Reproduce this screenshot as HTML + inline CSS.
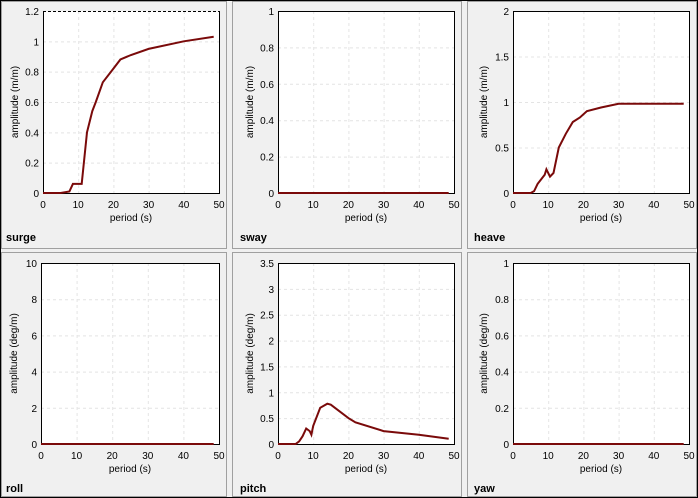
<!DOCTYPE html><html><head><style>body{margin:0;background:#fff}svg{display:block}text{font-family:"Liberation Sans",sans-serif;font-size:10px;fill:#000}</style></head><body>
<svg id="s" width="698" height="498" xmlns="http://www.w3.org/2000/svg"></svg>
<script>
const S=document.getElementById('s');let h='<rect x="0.5" y="0.5" width="697" height="497" fill="#f0f0f0" stroke="#000"/>';
const panels=[[1,1,226,248],[232,1,230,248],[467,1,230,248],[1,252,226,245],[232,252,230,245],[467,252,230,245]];
for(const p of panels){h+=`<rect x="${p[0]+.5}" y="${p[1]+.5}" width="${p[2]-1}" height="${p[3]-1}" fill="#f0f0f0" stroke="#a0a0a0"/>`;}
const charts=[
{L:43,R:219,T:11,B:193,ymax:1.2,yt:[0,0.2,0.4,0.6,0.8,1,1.2],yl:'amplitude (m/m)',name:'surge',nx:6,dash:true,
d:[[0,0],[5,0],[7.5,0.01],[8.5,0.06],[11,0.06],[12.5,0.4],[14,0.54],[15,0.6],[17,0.73],[20,0.82],[22,0.88],[25,0.91],[30,0.95],[40,1.0],[48.5,1.03]]},
{L:278,R:454,T:11,B:193,ymax:1,yt:[0,0.2,0.4,0.6,0.8,1],yl:'amplitude (m/m)',name:'sway',nx:240,d:[[0,0],[48.5,0]]},
{L:513,R:689,T:11,B:193,ymax:2,yt:[0,0.5,1,1.5,2],yl:'amplitude (m/m)',name:'heave',nx:474,
d:[[0,0],[5,0],[6,0.02],[7,0.1],[9,0.2],[9.5,0.26],[10.5,0.18],[11.5,0.22],[13,0.5],[15,0.65],[17,0.78],[19,0.83],[21,0.9],[25,0.94],[30,0.98],[48.5,0.98]]},
{L:41,R:219,T:263,B:444,ymax:10,yt:[0,2,4,6,8,10],yl:'amplitude (deg/m)',name:'roll',nx:6,d:[[0,0],[48.5,0]]},
{L:278,R:454,T:263,B:444,ymax:3.5,yt:[0,0.5,1,1.5,2,2.5,3,3.5],yl:'amplitude (deg/m)',name:'pitch',nx:240,
d:[[0,0],[5,0],[6,0.05],[7,0.15],[8,0.3],[9,0.25],[9.5,0.18],[10,0.35],[12,0.7],[14,0.78],[15,0.76],[20,0.5],[22,0.42],[30,0.25],[40,0.18],[48.5,0.1]]},
{L:513,R:689,T:263,B:444,ymax:1,yt:[0,0.2,0.4,0.6,0.8,1],yl:'amplitude (deg/m)',name:'yaw',nx:474,d:[[0,0],[48.5,0]]}];
for(const c of charts){
 const X=v=>c.L+(c.R-c.L)*v/50,Y=v=>c.B-(c.B-c.T)*v/c.ymax;
 h+=`<rect x="${c.L+.5}" y="${c.T+.5}" width="${c.R-c.L}" height="${c.B-c.T}" fill="#fff"/>`;
 for(let x=10;x<50;x+=10)h+=`<line x1="${X(x)+.5}" x2="${X(x)+.5}" y1="${c.T}" y2="${c.B}" stroke="#e4e4e4" stroke-dasharray="3,3"/>`;
 for(const y of c.yt)if(y>0&&y<c.ymax)h+=`<line x1="${c.L}" x2="${c.R}" y1="${Y(y)+.5}" y2="${Y(y)+.5}" stroke="#e4e4e4" stroke-dasharray="3,3"/>`;
 h+=`<path d="M${c.L+.5} ${c.T+.5}V${c.B+.5}H${c.R+.5}V${c.T+.5}" fill="none" stroke="#000"/>`;
 h+=`<line x1="${c.L}" x2="${c.R+1}" y1="${c.T+.5}" y2="${c.T+.5}" stroke="#000" ${c.dash?'stroke-dasharray="3,2"':''}/>`;
 for(const y of c.yt)h+=`<text x="${c.L-4}" y="${Y(y)+4}" text-anchor="end">${y}</text>`;
 for(let x=0;x<=50;x+=10)h+=`<text x="${X(x)}" y="${c.B+15}" text-anchor="middle">${x}</text>`;
 h+=`<text x="${(c.L+c.R)/2}" y="${c.B+28}" text-anchor="middle">period (s)</text>`;
 const my=(c.T+c.B)/2, ax=c.nx+(c.name=='roll'?11:(c.name=='surge'?12:13));
 h+=`<text transform="translate(${ax},${my}) rotate(-90)" text-anchor="middle">${c.yl}</text>`;
 h+=`<text x="${c.nx}" y="${c.B+48}" style="font-weight:bold;font-size:11px">${c.name}</text>`;
 h+=`<polyline points="${c.d.map(p=>X(p[0]).toFixed(1)+','+Y(p[1]).toFixed(1)).join(' ')}" fill="none" stroke="#7a0a0a" stroke-width="2"/>`;
}
S.innerHTML=h;
</script></body></html>
